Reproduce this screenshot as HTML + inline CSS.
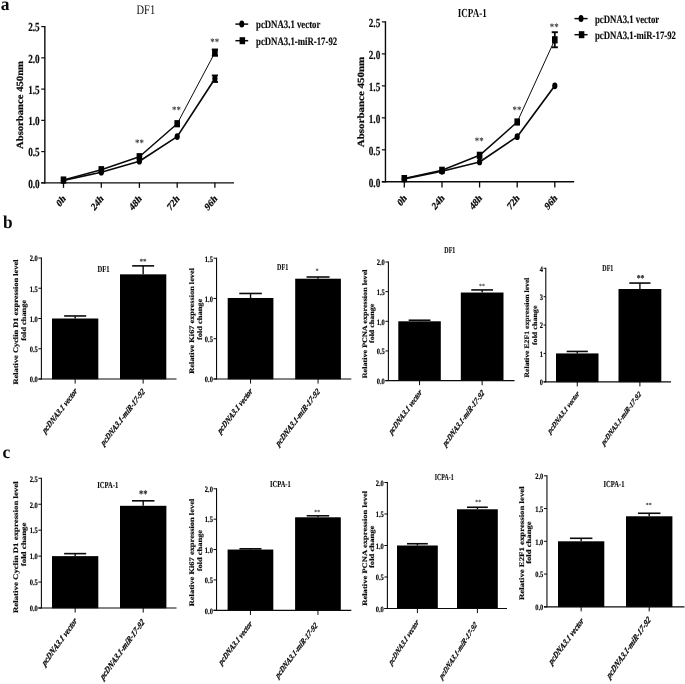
<!DOCTYPE html>
<html lang="en">
<head>
<meta charset="utf-8">
<title>Figure</title>
<style>
html,body{margin:0;padding:0;background:#fff;}
body{width:685px;height:684px;overflow:hidden;}
svg{display:block;font-family:'Liberation Serif', 'DejaVu Serif', serif;}
</style>
</head>
<body>
<svg width="685" height="684" viewBox="0 0 685 684" text-rendering="geometricPrecision">
<rect x="0" y="0" width="685" height="684" fill="#ffffff"/>
<text transform="translate(0.80 9.80) scale(0.970 1.000)" font-size="18" font-weight="bold" text-anchor="start" fill="#0a0a0a">a</text>
<text transform="translate(3.00 227.70) scale(0.960 1.000)" font-size="18" font-weight="bold" text-anchor="start" fill="#0a0a0a">b</text>
<text transform="translate(2.60 458.20) scale(0.970 1.000)" font-size="18" font-weight="bold" text-anchor="start" fill="#0a0a0a">c</text>
<g>
<line x1="44.85" y1="26.00" x2="44.85" y2="183.45" stroke="#0a0a0a" stroke-width="1.4" stroke-linecap="butt"/>
<line x1="41.25" y1="182.85" x2="234.00" y2="182.85" stroke="#0a0a0a" stroke-width="1.4" stroke-linecap="butt"/>
<line x1="41.25" y1="182.85" x2="44.85" y2="182.85" stroke="#0a0a0a" stroke-width="1.2" stroke-linecap="butt"/>
<text transform="translate(39.65 187.65) scale(0.748 1.000)" font-size="12.3" font-weight="bold" stroke="#0a0a0a" stroke-width="0.2" text-anchor="end" fill="#0a0a0a">0.0</text>
<line x1="41.25" y1="151.60" x2="44.85" y2="151.60" stroke="#0a0a0a" stroke-width="1.2" stroke-linecap="butt"/>
<text transform="translate(39.65 156.40) scale(0.748 1.000)" font-size="12.3" font-weight="bold" stroke="#0a0a0a" stroke-width="0.2" text-anchor="end" fill="#0a0a0a">0.5</text>
<line x1="41.25" y1="120.35" x2="44.85" y2="120.35" stroke="#0a0a0a" stroke-width="1.2" stroke-linecap="butt"/>
<text transform="translate(39.65 125.15) scale(0.748 1.000)" font-size="12.3" font-weight="bold" stroke="#0a0a0a" stroke-width="0.2" text-anchor="end" fill="#0a0a0a">1.0</text>
<line x1="41.25" y1="89.10" x2="44.85" y2="89.10" stroke="#0a0a0a" stroke-width="1.2" stroke-linecap="butt"/>
<text transform="translate(39.65 93.90) scale(0.748 1.000)" font-size="12.3" font-weight="bold" stroke="#0a0a0a" stroke-width="0.2" text-anchor="end" fill="#0a0a0a">1.5</text>
<line x1="41.25" y1="57.85" x2="44.85" y2="57.85" stroke="#0a0a0a" stroke-width="1.2" stroke-linecap="butt"/>
<text transform="translate(39.65 62.65) scale(0.748 1.000)" font-size="12.3" font-weight="bold" stroke="#0a0a0a" stroke-width="0.2" text-anchor="end" fill="#0a0a0a">2.0</text>
<line x1="41.25" y1="26.60" x2="44.85" y2="26.60" stroke="#0a0a0a" stroke-width="1.2" stroke-linecap="butt"/>
<text transform="translate(39.65 31.40) scale(0.748 1.000)" font-size="12.3" font-weight="bold" stroke="#0a0a0a" stroke-width="0.2" text-anchor="end" fill="#0a0a0a">2.5</text>
<line x1="63.50" y1="182.85" x2="63.50" y2="187.85" stroke="#0a0a0a" stroke-width="1.3" stroke-linecap="butt"/>
<text transform="translate(66.20 199.25) scale(0.840 1.060) rotate(-45)" font-size="10.3" font-weight="bold" stroke="#0a0a0a" stroke-width="0.22" text-anchor="end" fill="#0a0a0a">0h</text>
<line x1="101.30" y1="182.85" x2="101.30" y2="187.85" stroke="#0a0a0a" stroke-width="1.3" stroke-linecap="butt"/>
<text transform="translate(104.00 199.25) scale(0.840 1.060) rotate(-45)" font-size="10.3" font-weight="bold" stroke="#0a0a0a" stroke-width="0.22" text-anchor="end" fill="#0a0a0a">24h</text>
<line x1="139.40" y1="182.85" x2="139.40" y2="187.85" stroke="#0a0a0a" stroke-width="1.3" stroke-linecap="butt"/>
<text transform="translate(142.10 199.25) scale(0.840 1.060) rotate(-45)" font-size="10.3" font-weight="bold" stroke="#0a0a0a" stroke-width="0.22" text-anchor="end" fill="#0a0a0a">48h</text>
<line x1="177.20" y1="182.85" x2="177.20" y2="187.85" stroke="#0a0a0a" stroke-width="1.3" stroke-linecap="butt"/>
<text transform="translate(179.90 199.25) scale(0.840 1.060) rotate(-45)" font-size="10.3" font-weight="bold" stroke="#0a0a0a" stroke-width="0.22" text-anchor="end" fill="#0a0a0a">72h</text>
<line x1="214.90" y1="182.85" x2="214.90" y2="187.85" stroke="#0a0a0a" stroke-width="1.3" stroke-linecap="butt"/>
<text transform="translate(217.60 199.25) scale(0.840 1.060) rotate(-45)" font-size="10.3" font-weight="bold" stroke="#0a0a0a" stroke-width="0.22" text-anchor="end" fill="#0a0a0a">96h</text>
<text transform="translate(22.60 105.00) scale(0.900 1) rotate(-90)" font-size="10.6" font-weight="bold" text-anchor="middle" fill="#0a0a0a" stroke="#0a0a0a" stroke-width="0.25" textLength="88.00" lengthAdjust="spacingAndGlyphs">Absorbance 450nm</text>
<text transform="translate(145.80 14.00) scale(0.800 1.000)" font-size="13.1" font-weight="normal" text-anchor="middle" fill="#0a0a0a">DF1</text>
<polyline points="63.50,180.35 101.30,172.22 139.40,161.22 177.20,136.60 214.90,78.72" fill="none" stroke="#0a0a0a" stroke-width="1.7" stroke-linejoin="round"/>
<polyline points="63.50,180.04 101.30,169.72 139.40,156.72 177.20,123.72" fill="none" stroke="#0a0a0a" stroke-width="1.5" stroke-linejoin="round"/>
<line x1="177.20" y1="123.72" x2="214.90" y2="52.60" stroke="#0a0a0a" stroke-width="1.0" stroke-linecap="butt"/>
<line x1="214.90" y1="75.47" x2="214.90" y2="81.98" stroke="#0a0a0a" stroke-width="1.8" stroke-linecap="butt"/>
<line x1="211.80" y1="75.47" x2="218.00" y2="75.47" stroke="#0a0a0a" stroke-width="1.9" stroke-linecap="butt"/>
<line x1="211.80" y1="81.98" x2="218.00" y2="81.98" stroke="#0a0a0a" stroke-width="1.9" stroke-linecap="butt"/>
<line x1="214.90" y1="49.47" x2="214.90" y2="55.72" stroke="#0a0a0a" stroke-width="1.8" stroke-linecap="butt"/>
<line x1="211.80" y1="49.47" x2="218.00" y2="49.47" stroke="#0a0a0a" stroke-width="1.9" stroke-linecap="butt"/>
<line x1="211.80" y1="55.72" x2="218.00" y2="55.72" stroke="#0a0a0a" stroke-width="1.9" stroke-linecap="butt"/>
<ellipse cx="63.50" cy="180.35" rx="2.60" ry="3.40" fill="#000"/>
<ellipse cx="101.30" cy="172.22" rx="2.60" ry="3.40" fill="#000"/>
<ellipse cx="139.40" cy="161.22" rx="2.60" ry="3.40" fill="#000"/>
<ellipse cx="177.20" cy="136.60" rx="2.60" ry="3.40" fill="#000"/>
<ellipse cx="214.90" cy="78.72" rx="2.60" ry="3.40" fill="#000"/>
<rect x="60.70" y="176.44" width="5.60" height="7.20" fill="#000"/>
<rect x="98.50" y="166.12" width="5.60" height="7.20" fill="#000"/>
<rect x="136.60" y="153.12" width="5.60" height="7.20" fill="#000"/>
<rect x="174.40" y="120.12" width="5.60" height="7.20" fill="#000"/>
<rect x="212.10" y="49.00" width="5.60" height="7.20" fill="#000"/>
<text transform="translate(139.50 146.00) scale(0.880 1.000)" font-size="10" font-weight="bold" text-anchor="middle" fill="#333">**</text>
<text transform="translate(176.40 113.40) scale(0.880 1.000)" font-size="10" font-weight="bold" text-anchor="middle" fill="#333">**</text>
<text transform="translate(214.70 44.70) scale(0.880 1.000)" font-size="10" font-weight="bold" text-anchor="middle" fill="#333">**</text>
<line x1="235.40" y1="24.10" x2="248.20" y2="24.10" stroke="#0a0a0a" stroke-width="1.5" stroke-linecap="butt"/>
<line x1="235.40" y1="40.70" x2="248.20" y2="40.70" stroke="#0a0a0a" stroke-width="1.5" stroke-linecap="butt"/>
<ellipse cx="241.80" cy="24.10" rx="2.50" ry="3.50" fill="#000"/>
<rect x="239.60" y="37.20" width="5.50" height="7.00" fill="#000"/>
<text transform="translate(256.00 28.10) scale(0.785 1.000)" font-size="11.2" font-weight="bold" stroke="#0a0a0a" stroke-width="0.15" text-anchor="start" fill="#0a0a0a">pcDNA3.1 vector</text>
<text transform="translate(256.00 44.60) scale(0.785 1.000)" font-size="11.2" font-weight="bold" stroke="#0a0a0a" stroke-width="0.15" text-anchor="start" fill="#0a0a0a">pcDNA3.1-miR-17-92</text>
</g>
<g>
<line x1="385.45" y1="21.30" x2="385.45" y2="182.40" stroke="#0a0a0a" stroke-width="1.4" stroke-linecap="butt"/>
<line x1="381.85" y1="181.80" x2="574.20" y2="181.80" stroke="#0a0a0a" stroke-width="1.4" stroke-linecap="butt"/>
<line x1="381.85" y1="181.80" x2="385.45" y2="181.80" stroke="#0a0a0a" stroke-width="1.2" stroke-linecap="butt"/>
<text transform="translate(380.25 186.60) scale(0.748 1.000)" font-size="12.3" font-weight="bold" stroke="#0a0a0a" stroke-width="0.2" text-anchor="end" fill="#0a0a0a">0.0</text>
<line x1="381.85" y1="149.82" x2="385.45" y2="149.82" stroke="#0a0a0a" stroke-width="1.2" stroke-linecap="butt"/>
<text transform="translate(380.25 154.62) scale(0.748 1.000)" font-size="12.3" font-weight="bold" stroke="#0a0a0a" stroke-width="0.2" text-anchor="end" fill="#0a0a0a">0.5</text>
<line x1="381.85" y1="117.84" x2="385.45" y2="117.84" stroke="#0a0a0a" stroke-width="1.2" stroke-linecap="butt"/>
<text transform="translate(380.25 122.64) scale(0.748 1.000)" font-size="12.3" font-weight="bold" stroke="#0a0a0a" stroke-width="0.2" text-anchor="end" fill="#0a0a0a">1.0</text>
<line x1="381.85" y1="85.86" x2="385.45" y2="85.86" stroke="#0a0a0a" stroke-width="1.2" stroke-linecap="butt"/>
<text transform="translate(380.25 90.66) scale(0.748 1.000)" font-size="12.3" font-weight="bold" stroke="#0a0a0a" stroke-width="0.2" text-anchor="end" fill="#0a0a0a">1.5</text>
<line x1="381.85" y1="53.88" x2="385.45" y2="53.88" stroke="#0a0a0a" stroke-width="1.2" stroke-linecap="butt"/>
<text transform="translate(380.25 58.68) scale(0.748 1.000)" font-size="12.3" font-weight="bold" stroke="#0a0a0a" stroke-width="0.2" text-anchor="end" fill="#0a0a0a">2.0</text>
<line x1="381.85" y1="21.90" x2="385.45" y2="21.90" stroke="#0a0a0a" stroke-width="1.2" stroke-linecap="butt"/>
<text transform="translate(380.25 26.70) scale(0.748 1.000)" font-size="12.3" font-weight="bold" stroke="#0a0a0a" stroke-width="0.2" text-anchor="end" fill="#0a0a0a">2.5</text>
<line x1="404.30" y1="181.80" x2="404.30" y2="187.50" stroke="#0a0a0a" stroke-width="1.3" stroke-linecap="butt"/>
<text transform="translate(407.10 198.60) scale(0.840 1.060) rotate(-45)" font-size="10.3" font-weight="bold" stroke="#0a0a0a" stroke-width="0.22" text-anchor="end" fill="#0a0a0a">0h</text>
<line x1="442.00" y1="181.80" x2="442.00" y2="187.50" stroke="#0a0a0a" stroke-width="1.3" stroke-linecap="butt"/>
<text transform="translate(444.80 198.60) scale(0.840 1.060) rotate(-45)" font-size="10.3" font-weight="bold" stroke="#0a0a0a" stroke-width="0.22" text-anchor="end" fill="#0a0a0a">24h</text>
<line x1="479.60" y1="181.80" x2="479.60" y2="187.50" stroke="#0a0a0a" stroke-width="1.3" stroke-linecap="butt"/>
<text transform="translate(482.40 198.60) scale(0.840 1.060) rotate(-45)" font-size="10.3" font-weight="bold" stroke="#0a0a0a" stroke-width="0.22" text-anchor="end" fill="#0a0a0a">48h</text>
<line x1="517.20" y1="181.80" x2="517.20" y2="187.50" stroke="#0a0a0a" stroke-width="1.3" stroke-linecap="butt"/>
<text transform="translate(520.00 198.60) scale(0.840 1.060) rotate(-45)" font-size="10.3" font-weight="bold" stroke="#0a0a0a" stroke-width="0.22" text-anchor="end" fill="#0a0a0a">72h</text>
<line x1="554.80" y1="181.80" x2="554.80" y2="187.50" stroke="#0a0a0a" stroke-width="1.3" stroke-linecap="butt"/>
<text transform="translate(557.60 198.60) scale(0.840 1.060) rotate(-45)" font-size="10.3" font-weight="bold" stroke="#0a0a0a" stroke-width="0.22" text-anchor="end" fill="#0a0a0a">96h</text>
<text transform="translate(364.00 102.00) scale(0.900 1) rotate(-90)" font-size="10.6" font-weight="bold" text-anchor="middle" fill="#0a0a0a" stroke="#0a0a0a" stroke-width="0.25" textLength="90.50" lengthAdjust="spacingAndGlyphs">Absorbance 450nm</text>
<text transform="translate(472.30 16.80) scale(0.737 1.000)" font-size="12.3" font-weight="bold" text-anchor="middle" fill="#0a0a0a">ICPA-1</text>
<polyline points="404.30,178.92 442.00,171.25 479.60,161.97 517.20,136.64 554.80,85.86" fill="none" stroke="#0a0a0a" stroke-width="1.7" stroke-linejoin="round"/>
<polyline points="404.30,178.60 442.00,170.29 479.60,155.32 517.20,122.00" fill="none" stroke="#0a0a0a" stroke-width="1.5" stroke-linejoin="round"/>
<line x1="517.20" y1="122.00" x2="554.80" y2="39.81" stroke="#0a0a0a" stroke-width="1.0" stroke-linecap="butt"/>
<line x1="554.80" y1="32.20" x2="554.80" y2="47.29" stroke="#0a0a0a" stroke-width="1.8" stroke-linecap="butt"/>
<line x1="551.70" y1="32.20" x2="557.90" y2="32.20" stroke="#0a0a0a" stroke-width="1.9" stroke-linecap="butt"/>
<line x1="551.70" y1="47.29" x2="557.90" y2="47.29" stroke="#0a0a0a" stroke-width="1.9" stroke-linecap="butt"/>
<ellipse cx="404.30" cy="178.92" rx="2.60" ry="3.40" fill="#000"/>
<ellipse cx="442.00" cy="171.25" rx="2.60" ry="3.40" fill="#000"/>
<ellipse cx="479.60" cy="161.97" rx="2.60" ry="3.40" fill="#000"/>
<ellipse cx="517.20" cy="136.64" rx="2.60" ry="3.40" fill="#000"/>
<ellipse cx="554.80" cy="85.86" rx="2.60" ry="3.40" fill="#000"/>
<rect x="401.50" y="175.00" width="5.60" height="7.20" fill="#000"/>
<rect x="439.20" y="166.69" width="5.60" height="7.20" fill="#000"/>
<rect x="476.80" y="151.72" width="5.60" height="7.20" fill="#000"/>
<rect x="514.40" y="118.40" width="5.60" height="7.20" fill="#000"/>
<rect x="552.00" y="36.21" width="5.60" height="7.20" fill="#000"/>
<text transform="translate(479.20 144.40) scale(0.880 1.000)" font-size="10" font-weight="bold" text-anchor="middle" fill="#333">**</text>
<text transform="translate(517.00 112.70) scale(0.880 1.000)" font-size="10" font-weight="bold" text-anchor="middle" fill="#333">**</text>
<text transform="translate(554.20 30.00) scale(0.880 1.000)" font-size="10" font-weight="bold" text-anchor="middle" fill="#333">**</text>
<line x1="574.50" y1="18.60" x2="587.60" y2="18.60" stroke="#0a0a0a" stroke-width="1.5" stroke-linecap="butt"/>
<line x1="574.50" y1="34.70" x2="587.60" y2="34.70" stroke="#0a0a0a" stroke-width="1.5" stroke-linecap="butt"/>
<ellipse cx="581.05" cy="18.60" rx="2.50" ry="3.50" fill="#000"/>
<rect x="578.85" y="31.20" width="5.50" height="7.00" fill="#000"/>
<text transform="translate(595.00 22.50) scale(0.782 1.000)" font-size="11.2" font-weight="bold" stroke="#0a0a0a" stroke-width="0.15" text-anchor="start" fill="#0a0a0a">pcDNA3.1 vector</text>
<text transform="translate(595.00 39.40) scale(0.782 1.000)" font-size="11.2" font-weight="bold" stroke="#0a0a0a" stroke-width="0.15" text-anchor="start" fill="#0a0a0a">pcDNA3.1-miR-17-92</text>
</g>
<g>
<line x1="75.15" y1="315.96" x2="75.15" y2="318.50" stroke="#0a0a0a" stroke-width="1.4" stroke-linecap="butt"/>
<line x1="64.15" y1="315.96" x2="86.15" y2="315.96" stroke="#0a0a0a" stroke-width="1.6" stroke-linecap="butt"/>
<rect x="52.00" y="318.50" width="46.30" height="60.80" fill="#000"/>
<line x1="143.15" y1="265.87" x2="143.15" y2="274.34" stroke="#0a0a0a" stroke-width="1.4" stroke-linecap="butt"/>
<line x1="132.15" y1="265.87" x2="154.15" y2="265.87" stroke="#0a0a0a" stroke-width="1.6" stroke-linecap="butt"/>
<rect x="120.00" y="274.34" width="46.30" height="104.96" fill="#000"/>
<line x1="41.40" y1="257.50" x2="41.40" y2="379.50" stroke="#0a0a0a" stroke-width="1.1" stroke-linecap="butt"/>
<line x1="38.40" y1="379.00" x2="176.50" y2="379.00" stroke="#0a0a0a" stroke-width="1.2" stroke-linecap="butt"/>
<line x1="38.40" y1="379.00" x2="41.40" y2="379.00" stroke="#0a0a0a" stroke-width="1.0" stroke-linecap="butt"/>
<text transform="translate(37.80 382.30) scale(0.780 1.000)" font-size="8.3" font-weight="bold" stroke="#0a0a0a" stroke-width="0.18" text-anchor="end" fill="#0a0a0a">0.0</text>
<line x1="38.40" y1="348.75" x2="41.40" y2="348.75" stroke="#0a0a0a" stroke-width="1.0" stroke-linecap="butt"/>
<text transform="translate(37.80 352.05) scale(0.780 1.000)" font-size="8.3" font-weight="bold" stroke="#0a0a0a" stroke-width="0.18" text-anchor="end" fill="#0a0a0a">0.5</text>
<line x1="38.40" y1="318.50" x2="41.40" y2="318.50" stroke="#0a0a0a" stroke-width="1.0" stroke-linecap="butt"/>
<text transform="translate(37.80 321.80) scale(0.780 1.000)" font-size="8.3" font-weight="bold" stroke="#0a0a0a" stroke-width="0.18" text-anchor="end" fill="#0a0a0a">1.0</text>
<line x1="38.40" y1="288.25" x2="41.40" y2="288.25" stroke="#0a0a0a" stroke-width="1.0" stroke-linecap="butt"/>
<text transform="translate(37.80 291.55) scale(0.780 1.000)" font-size="8.3" font-weight="bold" stroke="#0a0a0a" stroke-width="0.18" text-anchor="end" fill="#0a0a0a">1.5</text>
<line x1="38.40" y1="258.00" x2="41.40" y2="258.00" stroke="#0a0a0a" stroke-width="1.0" stroke-linecap="butt"/>
<text transform="translate(37.80 261.30) scale(0.780 1.000)" font-size="8.3" font-weight="bold" stroke="#0a0a0a" stroke-width="0.18" text-anchor="end" fill="#0a0a0a">2.0</text>
<line x1="75.15" y1="379.00" x2="75.15" y2="383.60" stroke="#0a0a0a" stroke-width="1.0" stroke-linecap="butt"/>
<line x1="143.15" y1="379.00" x2="143.15" y2="383.60" stroke="#0a0a0a" stroke-width="1.0" stroke-linecap="butt"/>
<text transform="translate(77.60 391.80) scale(0.810 1.055) rotate(-45)" font-size="9.0" font-weight="bold" font-style="italic" textLength="56.40" lengthAdjust="spacingAndGlyphs" stroke="#0a0a0a" stroke-width="0.28" text-anchor="end" fill="#0a0a0a">pcDNA3.1 vector</text>
<text transform="translate(145.20 392.30) scale(0.810 1.055) rotate(-45)" font-size="9.0" font-weight="bold" font-style="italic" textLength="72.20" lengthAdjust="spacingAndGlyphs" stroke="#0a0a0a" stroke-width="0.28" text-anchor="end" fill="#0a0a0a">pcDNA3.1-miR-17-92</text>
<text transform="translate(18.20 322.00) scale(0.830 1) rotate(-90)" font-size="8.4" font-weight="bold" text-anchor="middle" fill="#0a0a0a" stroke="#0a0a0a" stroke-width="0.2" textLength="125.00" lengthAdjust="spacingAndGlyphs">Relative Cyclin D1 expression level</text>
<text transform="translate(25.60 320.40) scale(0.830 1) rotate(-90)" font-size="8.4" font-weight="bold" text-anchor="middle" fill="#0a0a0a" stroke="#0a0a0a" stroke-width="0.2" textLength="40.80" lengthAdjust="spacingAndGlyphs">fold change</text>
<text transform="translate(103.40 272.20) scale(0.713 1.000)" font-size="9.2" font-weight="bold" stroke="#0a0a0a" stroke-width="0.12" text-anchor="middle" fill="#0a0a0a">DF1</text>
<text transform="translate(143.00 263.60) scale(0.900 1.000)" font-size="8" font-weight="bold" text-anchor="middle" fill="#333">**</text>
</g>
<g>
<line x1="250.55" y1="293.47" x2="250.55" y2="297.98" stroke="#0a0a0a" stroke-width="1.4" stroke-linecap="butt"/>
<line x1="239.30" y1="293.47" x2="261.80" y2="293.47" stroke="#0a0a0a" stroke-width="1.6" stroke-linecap="butt"/>
<rect x="227.70" y="297.98" width="45.70" height="81.32" fill="#000"/>
<line x1="318.05" y1="277.00" x2="318.05" y2="278.70" stroke="#0a0a0a" stroke-width="1.4" stroke-linecap="butt"/>
<line x1="306.55" y1="277.00" x2="329.55" y2="277.00" stroke="#0a0a0a" stroke-width="1.6" stroke-linecap="butt"/>
<rect x="295.20" y="278.70" width="45.70" height="100.60" fill="#000"/>
<line x1="216.55" y1="257.70" x2="216.55" y2="379.50" stroke="#0a0a0a" stroke-width="1.1" stroke-linecap="butt"/>
<line x1="213.55" y1="379.00" x2="351.30" y2="379.00" stroke="#0a0a0a" stroke-width="1.2" stroke-linecap="butt"/>
<line x1="213.55" y1="379.00" x2="216.55" y2="379.00" stroke="#0a0a0a" stroke-width="1.0" stroke-linecap="butt"/>
<text transform="translate(212.95 382.30) scale(0.780 1.000)" font-size="8.3" font-weight="bold" stroke="#0a0a0a" stroke-width="0.18" text-anchor="end" fill="#0a0a0a">0.0</text>
<line x1="213.55" y1="338.73" x2="216.55" y2="338.73" stroke="#0a0a0a" stroke-width="1.0" stroke-linecap="butt"/>
<text transform="translate(212.95 342.03) scale(0.780 1.000)" font-size="8.3" font-weight="bold" stroke="#0a0a0a" stroke-width="0.18" text-anchor="end" fill="#0a0a0a">0.5</text>
<line x1="213.55" y1="298.47" x2="216.55" y2="298.47" stroke="#0a0a0a" stroke-width="1.0" stroke-linecap="butt"/>
<text transform="translate(212.95 301.77) scale(0.780 1.000)" font-size="8.3" font-weight="bold" stroke="#0a0a0a" stroke-width="0.18" text-anchor="end" fill="#0a0a0a">1.0</text>
<line x1="213.55" y1="258.20" x2="216.55" y2="258.20" stroke="#0a0a0a" stroke-width="1.0" stroke-linecap="butt"/>
<text transform="translate(212.95 261.50) scale(0.780 1.000)" font-size="8.3" font-weight="bold" stroke="#0a0a0a" stroke-width="0.18" text-anchor="end" fill="#0a0a0a">1.5</text>
<line x1="250.55" y1="379.00" x2="250.55" y2="383.60" stroke="#0a0a0a" stroke-width="1.0" stroke-linecap="butt"/>
<line x1="318.05" y1="379.00" x2="318.05" y2="383.60" stroke="#0a0a0a" stroke-width="1.0" stroke-linecap="butt"/>
<text transform="translate(252.80 391.80) scale(0.810 1.065) rotate(-45)" font-size="9.0" font-weight="bold" font-style="italic" textLength="56.40" lengthAdjust="spacingAndGlyphs" stroke="#0a0a0a" stroke-width="0.28" text-anchor="end" fill="#0a0a0a">pcDNA3.1 vector</text>
<text transform="translate(320.20 392.30) scale(0.810 1.065) rotate(-45)" font-size="9.0" font-weight="bold" font-style="italic" textLength="72.20" lengthAdjust="spacingAndGlyphs" stroke="#0a0a0a" stroke-width="0.28" text-anchor="end" fill="#0a0a0a">pcDNA3.1-miR-17-92</text>
<text transform="translate(194.20 320.90) scale(0.830 1) rotate(-90)" font-size="8.4" font-weight="bold" text-anchor="middle" fill="#0a0a0a" stroke="#0a0a0a" stroke-width="0.2" textLength="105.80" lengthAdjust="spacingAndGlyphs">Relative Ki67 expression level</text>
<text transform="translate(201.60 319.40) scale(0.830 1) rotate(-90)" font-size="8.4" font-weight="bold" text-anchor="middle" fill="#0a0a0a" stroke="#0a0a0a" stroke-width="0.2" textLength="41.20" lengthAdjust="spacingAndGlyphs">fold change</text>
<text transform="translate(282.60 270.20) scale(0.668 1.000)" font-size="9.2" font-weight="bold" stroke="#0a0a0a" stroke-width="0.12" text-anchor="middle" fill="#0a0a0a">DF1</text>
<text transform="translate(317.10 272.90) scale(0.900 1.000)" font-size="7" font-weight="bold" text-anchor="middle" fill="#333">*</text>
</g>
<g>
<line x1="419.55" y1="320.23" x2="419.55" y2="321.30" stroke="#0a0a0a" stroke-width="1.4" stroke-linecap="butt"/>
<line x1="408.65" y1="320.23" x2="430.45" y2="320.23" stroke="#0a0a0a" stroke-width="1.6" stroke-linecap="butt"/>
<rect x="398.30" y="321.30" width="42.50" height="59.60" fill="#000"/>
<line x1="482.15" y1="289.93" x2="482.15" y2="292.54" stroke="#0a0a0a" stroke-width="1.4" stroke-linecap="butt"/>
<line x1="471.25" y1="289.93" x2="493.05" y2="289.93" stroke="#0a0a0a" stroke-width="1.6" stroke-linecap="butt"/>
<rect x="460.80" y="292.54" width="42.70" height="88.36" fill="#000"/>
<line x1="388.40" y1="261.50" x2="388.40" y2="381.10" stroke="#0a0a0a" stroke-width="1.1" stroke-linecap="butt"/>
<line x1="385.40" y1="380.60" x2="514.50" y2="380.60" stroke="#0a0a0a" stroke-width="1.2" stroke-linecap="butt"/>
<line x1="385.40" y1="380.60" x2="388.40" y2="380.60" stroke="#0a0a0a" stroke-width="1.0" stroke-linecap="butt"/>
<text transform="translate(384.80 383.90) scale(0.780 1.000)" font-size="8.3" font-weight="bold" stroke="#0a0a0a" stroke-width="0.18" text-anchor="end" fill="#0a0a0a">0.0</text>
<line x1="385.40" y1="350.95" x2="388.40" y2="350.95" stroke="#0a0a0a" stroke-width="1.0" stroke-linecap="butt"/>
<text transform="translate(384.80 354.25) scale(0.780 1.000)" font-size="8.3" font-weight="bold" stroke="#0a0a0a" stroke-width="0.18" text-anchor="end" fill="#0a0a0a">0.5</text>
<line x1="385.40" y1="321.30" x2="388.40" y2="321.30" stroke="#0a0a0a" stroke-width="1.0" stroke-linecap="butt"/>
<text transform="translate(384.80 324.60) scale(0.780 1.000)" font-size="8.3" font-weight="bold" stroke="#0a0a0a" stroke-width="0.18" text-anchor="end" fill="#0a0a0a">1.0</text>
<line x1="385.40" y1="291.65" x2="388.40" y2="291.65" stroke="#0a0a0a" stroke-width="1.0" stroke-linecap="butt"/>
<text transform="translate(384.80 294.95) scale(0.780 1.000)" font-size="8.3" font-weight="bold" stroke="#0a0a0a" stroke-width="0.18" text-anchor="end" fill="#0a0a0a">1.5</text>
<line x1="385.40" y1="262.00" x2="388.40" y2="262.00" stroke="#0a0a0a" stroke-width="1.0" stroke-linecap="butt"/>
<text transform="translate(384.80 265.30) scale(0.780 1.000)" font-size="8.3" font-weight="bold" stroke="#0a0a0a" stroke-width="0.18" text-anchor="end" fill="#0a0a0a">2.0</text>
<line x1="419.55" y1="380.60" x2="419.55" y2="385.20" stroke="#0a0a0a" stroke-width="1.0" stroke-linecap="butt"/>
<line x1="482.15" y1="380.60" x2="482.15" y2="385.20" stroke="#0a0a0a" stroke-width="1.0" stroke-linecap="butt"/>
<text transform="translate(422.20 393.00) scale(0.765 1.050) rotate(-45)" font-size="9.0" font-weight="bold" font-style="italic" textLength="56.40" lengthAdjust="spacingAndGlyphs" stroke="#0a0a0a" stroke-width="0.28" text-anchor="end" fill="#0a0a0a">pcDNA3.1 vector</text>
<text transform="translate(484.70 393.50) scale(0.765 1.050) rotate(-45)" font-size="9.0" font-weight="bold" font-style="italic" textLength="72.20" lengthAdjust="spacingAndGlyphs" stroke="#0a0a0a" stroke-width="0.28" text-anchor="end" fill="#0a0a0a">pcDNA3.1-miR-17-92</text>
<text transform="translate(366.50 323.90) scale(0.810 1) rotate(-90)" font-size="8.4" font-weight="bold" text-anchor="middle" fill="#0a0a0a" stroke="#0a0a0a" stroke-width="0.2" textLength="108.80" lengthAdjust="spacingAndGlyphs">Relative PCNA expression level</text>
<text transform="translate(374.30 323.40) scale(0.810 1) rotate(-90)" font-size="8.4" font-weight="bold" text-anchor="middle" fill="#0a0a0a" stroke="#0a0a0a" stroke-width="0.2" textLength="39.20" lengthAdjust="spacingAndGlyphs">fold change</text>
<text transform="translate(449.80 253.20) scale(0.651 1.000)" font-size="9.2" font-weight="bold" stroke="#0a0a0a" stroke-width="0.12" text-anchor="middle" fill="#0a0a0a">DF1</text>
<text transform="translate(482.00 288.20) scale(0.900 1.000)" font-size="6.5" font-weight="bold" text-anchor="middle" fill="#333">**</text>
</g>
<g>
<line x1="577.25" y1="351.44" x2="577.25" y2="353.43" stroke="#0a0a0a" stroke-width="1.4" stroke-linecap="butt"/>
<line x1="566.65" y1="351.44" x2="587.85" y2="351.44" stroke="#0a0a0a" stroke-width="1.6" stroke-linecap="butt"/>
<rect x="556.00" y="353.43" width="42.50" height="28.68" fill="#000"/>
<line x1="639.90" y1="283.06" x2="639.90" y2="289.01" stroke="#0a0a0a" stroke-width="1.4" stroke-linecap="butt"/>
<line x1="629.30" y1="283.06" x2="650.50" y2="283.06" stroke="#0a0a0a" stroke-width="1.6" stroke-linecap="butt"/>
<rect x="618.50" y="289.01" width="42.80" height="93.09" fill="#000"/>
<line x1="545.80" y1="267.80" x2="545.80" y2="382.30" stroke="#0a0a0a" stroke-width="1.1" stroke-linecap="butt"/>
<line x1="543.60" y1="381.80" x2="671.00" y2="381.80" stroke="#0a0a0a" stroke-width="1.2" stroke-linecap="butt"/>
<line x1="543.60" y1="381.80" x2="545.80" y2="381.80" stroke="#0a0a0a" stroke-width="1.0" stroke-linecap="butt"/>
<text transform="translate(543.00 385.10) scale(0.780 1.000)" font-size="8.3" font-weight="bold" stroke="#0a0a0a" stroke-width="0.18" text-anchor="end" fill="#0a0a0a">0</text>
<line x1="543.60" y1="353.43" x2="545.80" y2="353.43" stroke="#0a0a0a" stroke-width="1.0" stroke-linecap="butt"/>
<text transform="translate(543.00 356.73) scale(0.780 1.000)" font-size="8.3" font-weight="bold" stroke="#0a0a0a" stroke-width="0.18" text-anchor="end" fill="#0a0a0a">1</text>
<line x1="543.60" y1="325.05" x2="545.80" y2="325.05" stroke="#0a0a0a" stroke-width="1.0" stroke-linecap="butt"/>
<text transform="translate(543.00 328.35) scale(0.780 1.000)" font-size="8.3" font-weight="bold" stroke="#0a0a0a" stroke-width="0.18" text-anchor="end" fill="#0a0a0a">2</text>
<line x1="543.60" y1="296.68" x2="545.80" y2="296.68" stroke="#0a0a0a" stroke-width="1.0" stroke-linecap="butt"/>
<text transform="translate(543.00 299.98) scale(0.780 1.000)" font-size="8.3" font-weight="bold" stroke="#0a0a0a" stroke-width="0.18" text-anchor="end" fill="#0a0a0a">3</text>
<line x1="543.60" y1="268.30" x2="545.80" y2="268.30" stroke="#0a0a0a" stroke-width="1.0" stroke-linecap="butt"/>
<text transform="translate(543.00 271.60) scale(0.780 1.000)" font-size="8.3" font-weight="bold" stroke="#0a0a0a" stroke-width="0.18" text-anchor="end" fill="#0a0a0a">4</text>
<line x1="577.25" y1="381.80" x2="577.25" y2="386.40" stroke="#0a0a0a" stroke-width="1.0" stroke-linecap="butt"/>
<line x1="639.90" y1="381.80" x2="639.90" y2="386.40" stroke="#0a0a0a" stroke-width="1.0" stroke-linecap="butt"/>
<text transform="translate(579.70 394.20) scale(0.737 1.000) rotate(-45)" font-size="8.4" font-weight="bold" font-style="italic" textLength="56.40" lengthAdjust="spacingAndGlyphs" stroke="#0a0a0a" stroke-width="0.28" text-anchor="end" fill="#0a0a0a">pcDNA3.1 vector</text>
<text transform="translate(641.50 394.70) scale(0.737 1.000) rotate(-45)" font-size="8.4" font-weight="bold" font-style="italic" textLength="72.20" lengthAdjust="spacingAndGlyphs" stroke="#0a0a0a" stroke-width="0.28" text-anchor="end" fill="#0a0a0a">pcDNA3.1-miR-17-92</text>
<text transform="translate(529.40 327.50) scale(0.810 1) rotate(-90)" font-size="8.4" font-weight="bold" text-anchor="middle" fill="#0a0a0a" stroke="#0a0a0a" stroke-width="0.2" textLength="100.00" lengthAdjust="spacingAndGlyphs">Relative E2F1 expression level</text>
<text transform="translate(536.70 325.30) scale(0.810 1) rotate(-90)" font-size="8.4" font-weight="bold" text-anchor="middle" fill="#0a0a0a" stroke="#0a0a0a" stroke-width="0.2" textLength="39.50" lengthAdjust="spacingAndGlyphs">fold change</text>
<text transform="translate(607.80 270.60) scale(0.651 1.000)" font-size="9.2" font-weight="bold" stroke="#0a0a0a" stroke-width="0.12" text-anchor="middle" fill="#0a0a0a">DF1</text>
<text transform="translate(640.50 281.20) scale(0.850 1.000)" font-size="9" font-weight="bold" stroke="#222" stroke-width="0.15" text-anchor="middle" fill="#222">**</text>
</g>
<g>
<line x1="75.15" y1="553.63" x2="75.15" y2="556.12" stroke="#0a0a0a" stroke-width="1.4" stroke-linecap="butt"/>
<line x1="64.15" y1="553.63" x2="86.15" y2="553.63" stroke="#0a0a0a" stroke-width="1.6" stroke-linecap="butt"/>
<rect x="52.00" y="556.12" width="46.30" height="52.18" fill="#000"/>
<line x1="143.20" y1="500.82" x2="143.20" y2="505.80" stroke="#0a0a0a" stroke-width="1.4" stroke-linecap="butt"/>
<line x1="131.95" y1="500.82" x2="154.45" y2="500.82" stroke="#0a0a0a" stroke-width="1.6" stroke-linecap="butt"/>
<rect x="120.00" y="505.80" width="46.40" height="102.50" fill="#000"/>
<line x1="41.40" y1="477.80" x2="41.40" y2="608.50" stroke="#0a0a0a" stroke-width="1.1" stroke-linecap="butt"/>
<line x1="38.40" y1="608.00" x2="176.50" y2="608.00" stroke="#0a0a0a" stroke-width="1.2" stroke-linecap="butt"/>
<line x1="38.40" y1="608.00" x2="41.40" y2="608.00" stroke="#0a0a0a" stroke-width="1.0" stroke-linecap="butt"/>
<text transform="translate(37.80 611.30) scale(0.780 1.000)" font-size="8.3" font-weight="bold" stroke="#0a0a0a" stroke-width="0.18" text-anchor="end" fill="#0a0a0a">0.0</text>
<line x1="38.40" y1="582.06" x2="41.40" y2="582.06" stroke="#0a0a0a" stroke-width="1.0" stroke-linecap="butt"/>
<text transform="translate(37.80 585.36) scale(0.780 1.000)" font-size="8.3" font-weight="bold" stroke="#0a0a0a" stroke-width="0.18" text-anchor="end" fill="#0a0a0a">0.5</text>
<line x1="38.40" y1="556.12" x2="41.40" y2="556.12" stroke="#0a0a0a" stroke-width="1.0" stroke-linecap="butt"/>
<text transform="translate(37.80 559.42) scale(0.780 1.000)" font-size="8.3" font-weight="bold" stroke="#0a0a0a" stroke-width="0.18" text-anchor="end" fill="#0a0a0a">1.0</text>
<line x1="38.40" y1="530.18" x2="41.40" y2="530.18" stroke="#0a0a0a" stroke-width="1.0" stroke-linecap="butt"/>
<text transform="translate(37.80 533.48) scale(0.780 1.000)" font-size="8.3" font-weight="bold" stroke="#0a0a0a" stroke-width="0.18" text-anchor="end" fill="#0a0a0a">1.5</text>
<line x1="38.40" y1="504.24" x2="41.40" y2="504.24" stroke="#0a0a0a" stroke-width="1.0" stroke-linecap="butt"/>
<text transform="translate(37.80 507.54) scale(0.780 1.000)" font-size="8.3" font-weight="bold" stroke="#0a0a0a" stroke-width="0.18" text-anchor="end" fill="#0a0a0a">2.0</text>
<line x1="38.40" y1="478.30" x2="41.40" y2="478.30" stroke="#0a0a0a" stroke-width="1.0" stroke-linecap="butt"/>
<text transform="translate(37.80 481.60) scale(0.780 1.000)" font-size="8.3" font-weight="bold" stroke="#0a0a0a" stroke-width="0.18" text-anchor="end" fill="#0a0a0a">2.5</text>
<line x1="75.15" y1="608.00" x2="75.15" y2="612.60" stroke="#0a0a0a" stroke-width="1.0" stroke-linecap="butt"/>
<line x1="143.20" y1="608.00" x2="143.20" y2="612.60" stroke="#0a0a0a" stroke-width="1.0" stroke-linecap="butt"/>
<text transform="translate(77.40 621.60) scale(0.815 1.125) rotate(-45)" font-size="9.0" font-weight="bold" font-style="italic" textLength="56.40" lengthAdjust="spacingAndGlyphs" stroke="#0a0a0a" stroke-width="0.28" text-anchor="end" fill="#0a0a0a">pcDNA3.1 vector</text>
<text transform="translate(144.80 622.80) scale(0.815 1.125) rotate(-45)" font-size="9.0" font-weight="bold" font-style="italic" textLength="72.20" lengthAdjust="spacingAndGlyphs" stroke="#0a0a0a" stroke-width="0.28" text-anchor="end" fill="#0a0a0a">pcDNA3.1-miR-17-92</text>
<text transform="translate(18.20 547.20) scale(0.830 1) rotate(-90)" font-size="8.4" font-weight="bold" text-anchor="middle" fill="#0a0a0a" stroke="#0a0a0a" stroke-width="0.2" textLength="131.70" lengthAdjust="spacingAndGlyphs">Relative Cyclin D1 expression level</text>
<text transform="translate(25.60 544.40) scale(0.830 1) rotate(-90)" font-size="8.4" font-weight="bold" text-anchor="middle" fill="#0a0a0a" stroke="#0a0a0a" stroke-width="0.2" textLength="43.80" lengthAdjust="spacingAndGlyphs">fold change</text>
<text transform="translate(107.80 487.60) scale(0.713 1.000)" font-size="9.2" font-weight="bold" stroke="#0a0a0a" stroke-width="0.12" text-anchor="middle" fill="#0a0a0a">ICPA-1</text>
<text transform="translate(143.30 496.60) scale(0.850 1.000)" font-size="10" font-weight="bold" stroke="#222" stroke-width="0.15" text-anchor="middle" fill="#222">**</text>
</g>
<g>
<line x1="250.45" y1="548.82" x2="250.45" y2="549.55" stroke="#0a0a0a" stroke-width="1.4" stroke-linecap="butt"/>
<line x1="239.45" y1="548.82" x2="261.45" y2="548.82" stroke="#0a0a0a" stroke-width="1.6" stroke-linecap="butt"/>
<rect x="227.60" y="549.55" width="45.70" height="61.05" fill="#000"/>
<line x1="317.95" y1="515.77" x2="317.95" y2="517.29" stroke="#0a0a0a" stroke-width="1.4" stroke-linecap="butt"/>
<line x1="306.70" y1="515.77" x2="329.20" y2="515.77" stroke="#0a0a0a" stroke-width="1.6" stroke-linecap="butt"/>
<rect x="295.10" y="517.29" width="45.70" height="93.31" fill="#000"/>
<line x1="216.55" y1="488.30" x2="216.55" y2="610.80" stroke="#0a0a0a" stroke-width="1.1" stroke-linecap="butt"/>
<line x1="213.55" y1="610.30" x2="351.30" y2="610.30" stroke="#0a0a0a" stroke-width="1.2" stroke-linecap="butt"/>
<line x1="213.55" y1="610.30" x2="216.55" y2="610.30" stroke="#0a0a0a" stroke-width="1.0" stroke-linecap="butt"/>
<text transform="translate(212.95 613.60) scale(0.780 1.000)" font-size="8.3" font-weight="bold" stroke="#0a0a0a" stroke-width="0.18" text-anchor="end" fill="#0a0a0a">0.0</text>
<line x1="213.55" y1="579.92" x2="216.55" y2="579.92" stroke="#0a0a0a" stroke-width="1.0" stroke-linecap="butt"/>
<text transform="translate(212.95 583.22) scale(0.780 1.000)" font-size="8.3" font-weight="bold" stroke="#0a0a0a" stroke-width="0.18" text-anchor="end" fill="#0a0a0a">0.5</text>
<line x1="213.55" y1="549.55" x2="216.55" y2="549.55" stroke="#0a0a0a" stroke-width="1.0" stroke-linecap="butt"/>
<text transform="translate(212.95 552.85) scale(0.780 1.000)" font-size="8.3" font-weight="bold" stroke="#0a0a0a" stroke-width="0.18" text-anchor="end" fill="#0a0a0a">1.0</text>
<line x1="213.55" y1="519.17" x2="216.55" y2="519.17" stroke="#0a0a0a" stroke-width="1.0" stroke-linecap="butt"/>
<text transform="translate(212.95 522.47) scale(0.780 1.000)" font-size="8.3" font-weight="bold" stroke="#0a0a0a" stroke-width="0.18" text-anchor="end" fill="#0a0a0a">1.5</text>
<line x1="213.55" y1="488.80" x2="216.55" y2="488.80" stroke="#0a0a0a" stroke-width="1.0" stroke-linecap="butt"/>
<text transform="translate(212.95 492.10) scale(0.780 1.000)" font-size="8.3" font-weight="bold" stroke="#0a0a0a" stroke-width="0.18" text-anchor="end" fill="#0a0a0a">2.0</text>
<line x1="250.45" y1="610.30" x2="250.45" y2="614.90" stroke="#0a0a0a" stroke-width="1.0" stroke-linecap="butt"/>
<line x1="317.95" y1="610.30" x2="317.95" y2="614.90" stroke="#0a0a0a" stroke-width="1.0" stroke-linecap="butt"/>
<text transform="translate(252.45 624.40) scale(0.775 1.030) rotate(-45)" font-size="9.0" font-weight="bold" font-style="italic" textLength="56.40" lengthAdjust="spacingAndGlyphs" stroke="#0a0a0a" stroke-width="0.28" text-anchor="end" fill="#0a0a0a">pcDNA3.1 vector</text>
<text transform="translate(317.85 626.10) scale(0.775 1.030) rotate(-45)" font-size="9.0" font-weight="bold" font-style="italic" textLength="72.20" lengthAdjust="spacingAndGlyphs" stroke="#0a0a0a" stroke-width="0.28" text-anchor="end" fill="#0a0a0a">pcDNA3.1-miR-17-92</text>
<text transform="translate(194.20 552.50) scale(0.830 1) rotate(-90)" font-size="8.4" font-weight="bold" text-anchor="middle" fill="#0a0a0a" stroke="#0a0a0a" stroke-width="0.2" textLength="107.50" lengthAdjust="spacingAndGlyphs">Relative Ki67 expression level</text>
<text transform="translate(201.60 550.60) scale(0.830 1) rotate(-90)" font-size="8.4" font-weight="bold" text-anchor="middle" fill="#0a0a0a" stroke="#0a0a0a" stroke-width="0.2" textLength="41.30" lengthAdjust="spacingAndGlyphs">fold change</text>
<text transform="translate(280.40 487.20) scale(0.704 1.000)" font-size="9.2" font-weight="bold" stroke="#0a0a0a" stroke-width="0.12" text-anchor="middle" fill="#0a0a0a">ICPA-1</text>
<text transform="translate(317.30 514.40) scale(0.900 1.000)" font-size="6.5" font-weight="bold" text-anchor="middle" fill="#333">**</text>
</g>
<g>
<line x1="417.40" y1="543.74" x2="417.40" y2="545.50" stroke="#0a0a0a" stroke-width="1.4" stroke-linecap="butt"/>
<line x1="407.00" y1="543.74" x2="427.80" y2="543.74" stroke="#0a0a0a" stroke-width="1.6" stroke-linecap="butt"/>
<rect x="397.00" y="545.50" width="40.80" height="63.30" fill="#000"/>
<line x1="477.40" y1="507.26" x2="477.40" y2="509.27" stroke="#0a0a0a" stroke-width="1.4" stroke-linecap="butt"/>
<line x1="467.00" y1="507.26" x2="487.80" y2="507.26" stroke="#0a0a0a" stroke-width="1.6" stroke-linecap="butt"/>
<rect x="457.00" y="509.27" width="40.80" height="99.53" fill="#000"/>
<line x1="387.40" y1="482.00" x2="387.40" y2="609.00" stroke="#0a0a0a" stroke-width="1.1" stroke-linecap="butt"/>
<line x1="384.40" y1="608.50" x2="507.00" y2="608.50" stroke="#0a0a0a" stroke-width="1.2" stroke-linecap="butt"/>
<line x1="384.40" y1="608.50" x2="387.40" y2="608.50" stroke="#0a0a0a" stroke-width="1.0" stroke-linecap="butt"/>
<text transform="translate(383.80 611.80) scale(0.780 1.000)" font-size="8.3" font-weight="bold" stroke="#0a0a0a" stroke-width="0.18" text-anchor="end" fill="#0a0a0a">0.0</text>
<line x1="384.40" y1="577.00" x2="387.40" y2="577.00" stroke="#0a0a0a" stroke-width="1.0" stroke-linecap="butt"/>
<text transform="translate(383.80 580.30) scale(0.780 1.000)" font-size="8.3" font-weight="bold" stroke="#0a0a0a" stroke-width="0.18" text-anchor="end" fill="#0a0a0a">0.5</text>
<line x1="384.40" y1="545.50" x2="387.40" y2="545.50" stroke="#0a0a0a" stroke-width="1.0" stroke-linecap="butt"/>
<text transform="translate(383.80 548.80) scale(0.780 1.000)" font-size="8.3" font-weight="bold" stroke="#0a0a0a" stroke-width="0.18" text-anchor="end" fill="#0a0a0a">1.0</text>
<line x1="384.40" y1="514.00" x2="387.40" y2="514.00" stroke="#0a0a0a" stroke-width="1.0" stroke-linecap="butt"/>
<text transform="translate(383.80 517.30) scale(0.780 1.000)" font-size="8.3" font-weight="bold" stroke="#0a0a0a" stroke-width="0.18" text-anchor="end" fill="#0a0a0a">1.5</text>
<line x1="384.40" y1="482.50" x2="387.40" y2="482.50" stroke="#0a0a0a" stroke-width="1.0" stroke-linecap="butt"/>
<text transform="translate(383.80 485.80) scale(0.780 1.000)" font-size="8.3" font-weight="bold" stroke="#0a0a0a" stroke-width="0.18" text-anchor="end" fill="#0a0a0a">2.0</text>
<line x1="417.40" y1="608.50" x2="417.40" y2="613.10" stroke="#0a0a0a" stroke-width="1.0" stroke-linecap="butt"/>
<line x1="477.40" y1="608.50" x2="477.40" y2="613.10" stroke="#0a0a0a" stroke-width="1.0" stroke-linecap="butt"/>
<text transform="translate(419.00 623.00) scale(0.690 1.063) rotate(-45)" font-size="9.0" font-weight="bold" font-style="italic" textLength="56.40" lengthAdjust="spacingAndGlyphs" stroke="#0a0a0a" stroke-width="0.28" text-anchor="end" fill="#0a0a0a">pcDNA3.1 vector</text>
<text transform="translate(477.30 625.60) scale(0.690 1.063) rotate(-45)" font-size="9.0" font-weight="bold" font-style="italic" textLength="72.20" lengthAdjust="spacingAndGlyphs" stroke="#0a0a0a" stroke-width="0.28" text-anchor="end" fill="#0a0a0a">pcDNA3.1-miR-17-92</text>
<text transform="translate(366.50 548.30) scale(0.810 1) rotate(-90)" font-size="8.4" font-weight="bold" text-anchor="middle" fill="#0a0a0a" stroke="#0a0a0a" stroke-width="0.2" textLength="115.00" lengthAdjust="spacingAndGlyphs">Relative PCNA expression level</text>
<text transform="translate(374.00 546.80) scale(0.810 1) rotate(-90)" font-size="8.4" font-weight="bold" text-anchor="middle" fill="#0a0a0a" stroke="#0a0a0a" stroke-width="0.2" textLength="42.50" lengthAdjust="spacingAndGlyphs">fold change</text>
<text transform="translate(444.20 479.70) scale(0.637 1.000)" font-size="9.2" font-weight="bold" stroke="#0a0a0a" stroke-width="0.12" text-anchor="middle" fill="#0a0a0a">ICPA-1</text>
<text transform="translate(478.30 503.90) scale(0.900 1.000)" font-size="6.5" font-weight="bold" text-anchor="middle" fill="#333">**</text>
</g>
<g>
<line x1="581.15" y1="538.29" x2="581.15" y2="541.30" stroke="#0a0a0a" stroke-width="1.4" stroke-linecap="butt"/>
<line x1="569.90" y1="538.29" x2="592.40" y2="538.29" stroke="#0a0a0a" stroke-width="1.6" stroke-linecap="butt"/>
<rect x="558.00" y="541.30" width="46.30" height="65.80" fill="#000"/>
<line x1="649.20" y1="513.27" x2="649.20" y2="516.28" stroke="#0a0a0a" stroke-width="1.4" stroke-linecap="butt"/>
<line x1="637.95" y1="513.27" x2="660.45" y2="513.27" stroke="#0a0a0a" stroke-width="1.6" stroke-linecap="butt"/>
<rect x="626.00" y="516.28" width="46.40" height="90.82" fill="#000"/>
<line x1="546.95" y1="475.30" x2="546.95" y2="607.30" stroke="#0a0a0a" stroke-width="1.1" stroke-linecap="butt"/>
<line x1="543.95" y1="606.80" x2="684.50" y2="606.80" stroke="#0a0a0a" stroke-width="1.2" stroke-linecap="butt"/>
<line x1="543.95" y1="606.80" x2="546.95" y2="606.80" stroke="#0a0a0a" stroke-width="1.0" stroke-linecap="butt"/>
<text transform="translate(543.35 610.10) scale(0.780 1.000)" font-size="8.3" font-weight="bold" stroke="#0a0a0a" stroke-width="0.18" text-anchor="end" fill="#0a0a0a">0.0</text>
<line x1="543.95" y1="574.05" x2="546.95" y2="574.05" stroke="#0a0a0a" stroke-width="1.0" stroke-linecap="butt"/>
<text transform="translate(543.35 577.35) scale(0.780 1.000)" font-size="8.3" font-weight="bold" stroke="#0a0a0a" stroke-width="0.18" text-anchor="end" fill="#0a0a0a">0.5</text>
<line x1="543.95" y1="541.30" x2="546.95" y2="541.30" stroke="#0a0a0a" stroke-width="1.0" stroke-linecap="butt"/>
<text transform="translate(543.35 544.60) scale(0.780 1.000)" font-size="8.3" font-weight="bold" stroke="#0a0a0a" stroke-width="0.18" text-anchor="end" fill="#0a0a0a">1.0</text>
<line x1="543.95" y1="508.55" x2="546.95" y2="508.55" stroke="#0a0a0a" stroke-width="1.0" stroke-linecap="butt"/>
<text transform="translate(543.35 511.85) scale(0.780 1.000)" font-size="8.3" font-weight="bold" stroke="#0a0a0a" stroke-width="0.18" text-anchor="end" fill="#0a0a0a">1.5</text>
<line x1="543.95" y1="475.80" x2="546.95" y2="475.80" stroke="#0a0a0a" stroke-width="1.0" stroke-linecap="butt"/>
<text transform="translate(543.35 479.10) scale(0.780 1.000)" font-size="8.3" font-weight="bold" stroke="#0a0a0a" stroke-width="0.18" text-anchor="end" fill="#0a0a0a">2.0</text>
<line x1="581.15" y1="606.80" x2="581.15" y2="611.40" stroke="#0a0a0a" stroke-width="1.0" stroke-linecap="butt"/>
<line x1="649.20" y1="606.80" x2="649.20" y2="611.40" stroke="#0a0a0a" stroke-width="1.0" stroke-linecap="butt"/>
<text transform="translate(584.00 621.60) scale(0.810 1.092) rotate(-45)" font-size="9.0" font-weight="bold" font-style="italic" textLength="56.40" lengthAdjust="spacingAndGlyphs" stroke="#0a0a0a" stroke-width="0.28" text-anchor="end" fill="#0a0a0a">pcDNA3.1 vector</text>
<text transform="translate(651.00 620.60) scale(0.810 1.150) rotate(-45)" font-size="9.0" font-weight="bold" font-style="italic" textLength="72.20" lengthAdjust="spacingAndGlyphs" stroke="#0a0a0a" stroke-width="0.28" text-anchor="end" fill="#0a0a0a">pcDNA3.1-miR-17-92</text>
<text transform="translate(523.60 543.20) scale(0.830 1) rotate(-90)" font-size="8.4" font-weight="bold" text-anchor="middle" fill="#0a0a0a" stroke="#0a0a0a" stroke-width="0.2" textLength="113.70" lengthAdjust="spacingAndGlyphs">Relative E2F1 expression level</text>
<text transform="translate(531.10 542.60) scale(0.830 1) rotate(-90)" font-size="8.4" font-weight="bold" text-anchor="middle" fill="#0a0a0a" stroke="#0a0a0a" stroke-width="0.2" textLength="42.50" lengthAdjust="spacingAndGlyphs">fold change</text>
<text transform="translate(614.00 487.20) scale(0.713 1.000)" font-size="9.2" font-weight="bold" stroke="#0a0a0a" stroke-width="0.12" text-anchor="middle" fill="#0a0a0a">ICPA-1</text>
<text transform="translate(648.80 506.90) scale(0.900 1.000)" font-size="6.5" font-weight="bold" text-anchor="middle" fill="#333">**</text>
</g>
</svg>
</body>
</html>
